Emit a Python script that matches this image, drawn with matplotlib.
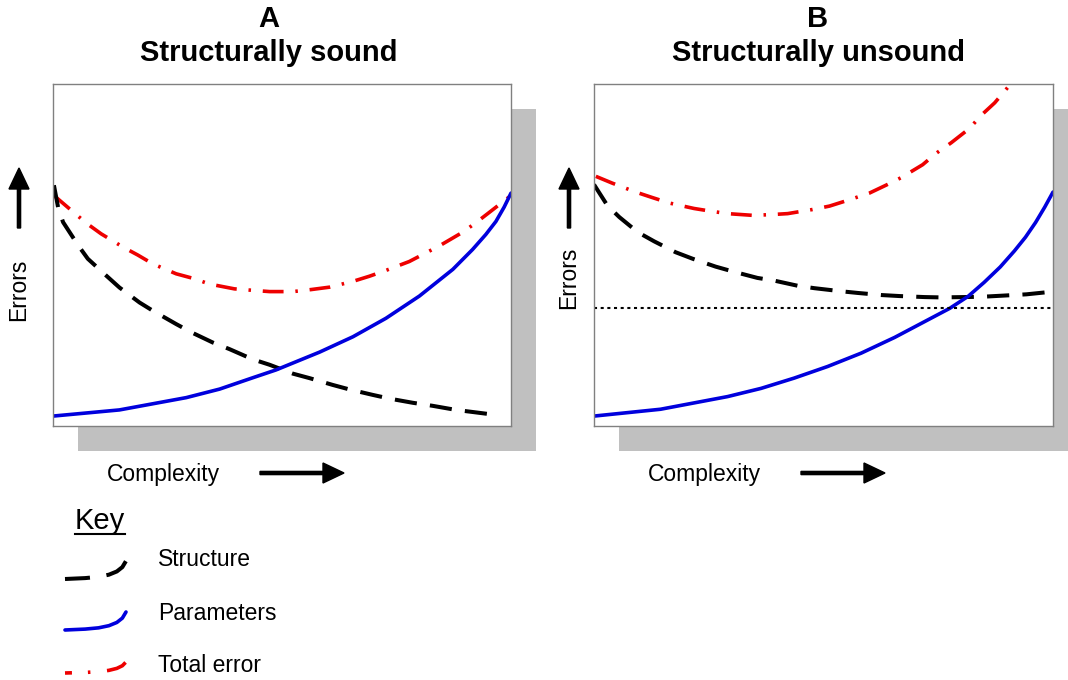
import matplotlib
matplotlib.use("Agg")
import matplotlib.pyplot as plt
from matplotlib.patches import Rectangle
from matplotlib.lines import Line2D

plt.rcParams['font.family'] = ['Liberation Sans', 'DejaVu Sans']
plt.rcParams['lines.scale_dashes'] = False

W, H = 1068, 680

# panel titles
panel_letters = ["A", "B"]
panel_titles = ["Structurally sound", "Structurally unsound"]

# curves (x = complexity 0..1, y = errors 0..1)
a_struct_x = [0.002, 0.011, 0.022, 0.055, 0.076, 0.116, 0.145, 0.189, 0.218,
              0.269, 0.302, 0.349, 0.385, 0.436, 0.473, 0.524, 0.560, 0.611,
              0.647, 0.698, 0.735, 0.785, 0.829, 0.880, 0.916, 0.975]
a_struct_y = [0.704, 0.640, 0.596, 0.528, 0.489, 0.440, 0.405, 0.361, 0.337,
              0.298, 0.274, 0.244, 0.225, 0.195, 0.179, 0.153, 0.140, 0.120,
              0.107, 0.091, 0.080, 0.068, 0.059, 0.047, 0.041, 0.031]
a_param_x = [0.0, 0.145, 0.291, 0.364, 0.436, 0.487, 0.582, 0.655, 0.727,
             0.800, 0.873, 0.916, 0.945, 0.967, 0.985, 1.0]
a_param_y = [0.029, 0.047, 0.083, 0.108, 0.141, 0.164, 0.216, 0.261, 0.315,
             0.380, 0.458, 0.516, 0.560, 0.598, 0.640, 0.681]
a_total_x = [0.002, 0.044, 0.073, 0.105, 0.153, 0.185, 0.218, 0.269, 0.305,
             0.342, 0.396, 0.433, 0.473, 0.524, 0.564, 0.604, 0.655, 0.691,
             0.727, 0.778, 0.811, 0.844, 0.895, 0.924, 0.953, 1.0]
a_total_y = [0.674, 0.626, 0.593, 0.562, 0.523, 0.500, 0.474, 0.445, 0.432,
             0.415, 0.401, 0.397, 0.393, 0.393, 0.399, 0.406, 0.423, 0.438,
             0.455, 0.481, 0.504, 0.527, 0.567, 0.595, 0.625, 0.674]

b_struct_x = [0.0, 0.029, 0.055, 0.095, 0.131, 0.178, 0.215, 0.265, 0.302,
              0.356, 0.393, 0.444, 0.480, 0.538, 0.575, 0.625, 0.665, 0.720,
              0.756, 0.807, 0.847, 0.902, 0.942, 1.0]
b_struct_y = [0.706, 0.645, 0.611, 0.567, 0.540, 0.508, 0.489, 0.466, 0.452,
              0.433, 0.425, 0.410, 0.403, 0.394, 0.389, 0.383, 0.380, 0.377,
              0.376, 0.377, 0.378, 0.382, 0.385, 0.393]
b_param_x = [0.0, 0.145, 0.291, 0.364, 0.436, 0.509, 0.582, 0.655, 0.727,
             0.775, 0.815, 0.850, 0.885, 0.916, 0.940, 0.962, 0.982, 1.0]
b_param_y = [0.029, 0.049, 0.086, 0.110, 0.140, 0.174, 0.213, 0.259, 0.310,
             0.344, 0.379, 0.420, 0.465, 0.512, 0.552, 0.595, 0.640, 0.684]
b_total_x = [0.004, 0.040, 0.091, 0.127, 0.164, 0.218, 0.255, 0.291, 0.345,
             0.385, 0.422, 0.476, 0.513, 0.553, 0.600, 0.636, 0.669, 0.716,
             0.745, 0.778, 0.818, 0.844, 0.873, 0.909]
b_total_y = [0.730, 0.710, 0.684, 0.668, 0.652, 0.636, 0.628, 0.621, 0.616,
             0.618, 0.621, 0.633, 0.643, 0.660, 0.681, 0.704, 0.726, 0.764,
             0.797, 0.828, 0.870, 0.909, 0.945, 1.002]
b_floor = 0.344  # dotted level in panel B

key_labels = ["Structure", "Parameters", "Total error"]
key_row_y = [560, 613, 666]
key_base_dy = [19, 17, 7]     # glyph start below text centre (px)
key_rise = [18, 18, 11]       # glyph rise (px)
# shape of the little key glyphs (fraction of width, fraction of rise)
key_shape_u = [0.0, 0.33, 0.55, 0.72, 0.85, 0.94, 1.0]
key_shape_v = [0.0, 0.05, 0.12, 0.24, 0.42, 0.66, 1.0]

BLUE = "#0000dd"
RED = "#ee0000"
GREY_SHADOW = "#c0c0c0"

styles = {
    "struct": dict(color="black", lw=2.9, linestyle=(0, (16, 9.5))),
    "param": dict(color=BLUE, lw=2.6),
    "total": dict(color=RED, lw=2.6, linestyle=(0, (15, 8.5, 1.8, 8.5))),
}
key_styles = {
    "struct": dict(color="black", lw=2.9, linestyle=(0, (18, 12))),
    "param": dict(color=BLUE, lw=2.6),
    "total": dict(color=RED, lw=2.6, linestyle=(10, (15, 11.5, 1.8, 12))),
}

fig = plt.figure(figsize=(W / 100, H / 100), dpi=100)

# overlay in pixel coordinates for shadows, arrows and text
bg = fig.add_axes([0, 0, 1, 1], zorder=0)
bg.set_xlim(0, W)
bg.set_ylim(H, 0)
bg.axis("off")

boxes = [(53, 84, 458, 342), (594, 84, 459, 342)]  # left, top, width, height
shadow_off = 25
title_x = [269, 818]

panel_data = [
    (a_struct_x, a_struct_y, a_param_x, a_param_y, a_total_x, a_total_y),
    (b_struct_x, b_struct_y, b_param_x, b_param_y, b_total_x, b_total_y),
]

for i, (l, t, w, h) in enumerate(boxes):
    bg.add_patch(Rectangle((l + shadow_off, t + shadow_off), w, h,
                           facecolor=GREY_SHADOW, edgecolor="none"))
    ax = fig.add_axes([l / W, 1 - (t + h) / H, w / W, h / H], zorder=2)
    ax.set_xlim(0, 1)
    ax.set_ylim(0, 1)
    ax.set_xticks([])
    ax.set_yticks([])
    for s in ax.spines.values():
        s.set_color("#808080")
        s.set_linewidth(1.0)
    sx, sy, px, py, tx, ty = panel_data[i]
    ax.plot(tx, ty, **styles["total"])
    ax.plot(sx, sy, **styles["struct"])
    ax.plot(px, py, solid_capstyle="round", solid_joinstyle="round",
            **styles["param"])
    if i == 1:
        ax.axhline(b_floor, color="black", lw=1.5, linestyle=(0, (2.2, 2.6)))

    # titles
    bg.text(title_x[i], 19, panel_letters[i], ha="center", va="center",
            fontsize=21, fontweight="bold")
    bg.text(title_x[i], 53, panel_titles[i], ha="center", va="center",
            fontsize=21, fontweight="bold")

    # y-axis arrow and label
    ax_x = l - 34 if i == 0 else l - 25
    bg.arrow(ax_x, 228, 0, -60, width=3.2, head_width=20, head_length=21,
             length_includes_head=True, color="black")
    bg.text(ax_x, 290 if i == 0 else 278, "Errors", rotation=90,
            ha="center", va="center", fontsize=16.5)

    # x-axis label and arrow
    bg.text(l + 54, 475, "Complexity", ha="left", va="center", fontsize=16.5)
    bg.arrow(l + 207, 473, 84, 0, width=3.2, head_width=20, head_length=21,
             length_includes_head=True, color="black")

# key
key_txt = bg.text(75, 521, "Key", ha="left", va="center", fontsize=21)
for lab, key, yc, dy, rise in zip(key_labels, ["struct", "param", "total"],
                                  key_row_y, key_base_dy, key_rise):
    gx = [65 + 61 * u for u in key_shape_u]
    gy = [yc + dy - rise * v for v in key_shape_v]
    bg.plot(gx, gy, solid_capstyle="round", **key_styles[key])
    bg.text(158, yc, lab, ha="left", va="center", fontsize=16.5)

# underline the key heading
fig.canvas.draw()
bb = key_txt.get_window_extent()
inv = bg.transData.inverted()
(x0, y0), (x1, _) = inv.transform([(bb.x0, bb.y0), (bb.x1, bb.y0)])
bg.add_line(Line2D([x0, x1], [y0 - 1, y0 - 1], color="black", lw=1.5))

fig.savefig("out.png", dpi=100)
